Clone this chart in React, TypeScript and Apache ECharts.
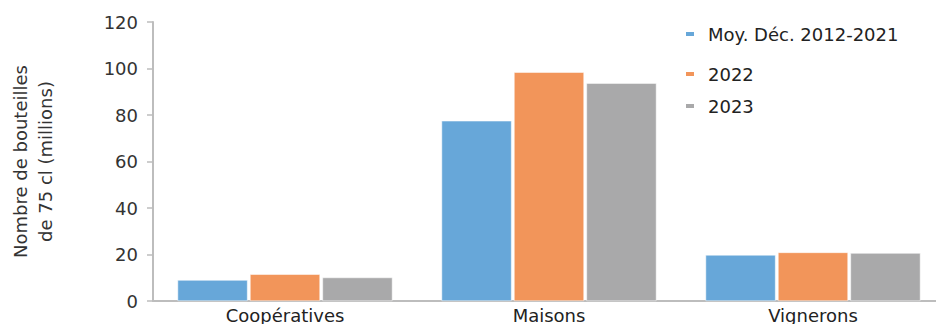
import React, { useEffect, useRef } from "react";
import * as echarts from "echarts";

const categories = ["Coopératives", "Maisons", "Vignerons"];
const seriesNames = ["Moy. Déc. 2012-2021", "2022", "2023"];
const avgValues = [9.0, 77.5, 19.8];
const values2022 = [11.5, 98.4, 20.9];
const values2023 = [10.1, 93.7, 20.6];
const colors = ["#67A7D9", "#F2955A", "#A9A9AA"];
const FONT = "DejaVu Sans";

export default function App() {
  const ref = useRef<HTMLDivElement>(null);
  useEffect(() => {
    const chart = echarts.init(ref.current!, null, { renderer: "svg" });
    const dataSets = [avgValues, values2022, values2023];
    const legendTops = [20, 60, 92];
    chart.setOption({
      animation: false,
      textStyle: { fontFamily: FONT },
      legend: seriesNames.map((n, i) => ({
        data: [n],
        left: 679,
        top: legendTops[i],
        itemWidth: 10,
        itemHeight: 6,
        itemGap: 10,
        icon: "rect",
        textStyle: { fontSize: 18, color: "#222", fontFamily: FONT, padding: [0, 0, 0, 8] },
      })),
      grid: { left: 152, right: 0, top: 22, bottom: 21, containLabel: false },
      xAxis: {
        type: "category",
        data: categories,
        axisLine: { lineStyle: { color: "#BDBDBD", width: 2 } },
        axisTick: { show: false },
        axisLabel: { fontSize: 18, color: "#222", margin: 5, fontFamily: FONT },
      },
      yAxis: {
        type: "value",
        min: 0,
        max: 120,
        interval: 20,
        name: "Nombre de bouteilles\nde 75 cl (millions)",
        nameLocation: "middle",
        nameGap: 95,
        nameTextStyle: { fontSize: 18, color: "#333", lineHeight: 25, fontFamily: FONT },
        axisLine: { show: true, lineStyle: { color: "#BDBDBD", width: 2 } },
        axisTick: { show: true, length: 6, lineStyle: { color: "#BDBDBD", width: 1.5 } },
        splitLine: { show: false },
        axisLabel: { fontSize: 18, color: "#333", margin: 15, fontFamily: FONT },
      },
      series: seriesNames.map((n, i) => ({
        name: n,
        type: "bar",
        data: dataSets[i],
        barWidth: 70,
        barGap: "3.5%",
        itemStyle: { color: colors[i], borderColor: "#ffffff", borderWidth: 0.5 },
      })),
    });
    return () => chart.dispose();
  }, []);
  return (
    <div style={{ position: "fixed", left: 0, top: 0, width: 936, height: 324, overflow: "hidden", background: "#fff" }}>
      <div ref={ref} style={{ width: 945, height: 324 }} />
    </div>
  );
}
